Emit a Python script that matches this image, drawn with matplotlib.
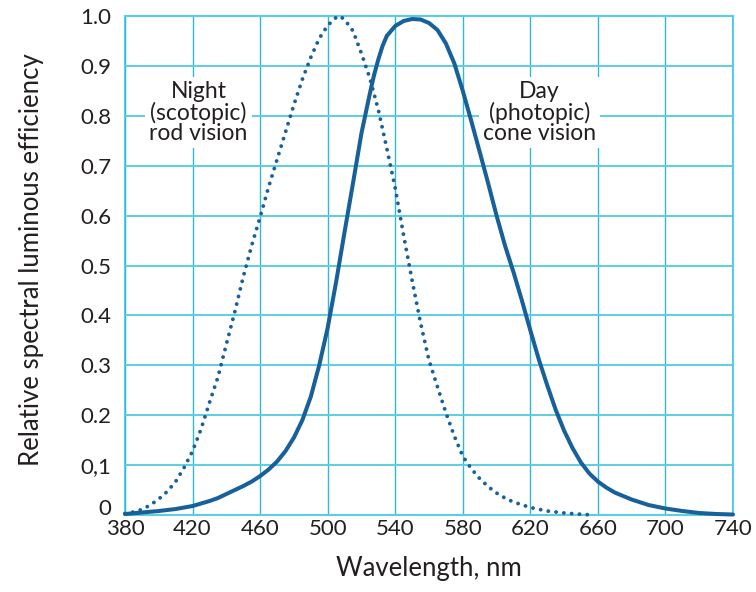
import matplotlib
matplotlib.use("Agg")
import matplotlib.pyplot as plt
from matplotlib.transforms import ScaledTranslation

# ---- data ----
photopic_nm = [380, 390, 400, 410, 420, 430, 435, 440, 445, 450, 455, 460, 465, 470, 475,
               480, 485, 490, 495, 500, 505, 510, 515, 520, 525, 527.5, 530, 532.5, 535,
               540, 545, 550, 555, 560, 565, 570, 575, 580, 585, 590, 595, 600, 605, 610,
               615, 620, 625, 630, 635, 640, 645, 650, 655, 660, 665, 670, 680, 690, 700,
               710, 720, 730, 740]
photopic_val = [0.002, 0.005, 0.008, 0.012, 0.018, 0.028, 0.034, 0.042, 0.050, 0.058, 0.067,
                0.078, 0.091, 0.107, 0.128, 0.155, 0.190, 0.237, 0.300, 0.375, 0.467, 0.567,
                0.665, 0.765, 0.845, 0.882, 0.913, 0.940, 0.960, 0.980, 0.990, 0.994, 0.993,
                0.986, 0.972, 0.945, 0.905, 0.850, 0.790, 0.728, 0.665, 0.600, 0.540, 0.487,
                0.430, 0.370, 0.312, 0.260, 0.211, 0.169, 0.134, 0.105, 0.083, 0.067, 0.055,
                0.045, 0.031, 0.020, 0.013, 0.008, 0.004, 0.002, 0.001]

scotopic_nm = [380, 385, 390, 395, 400, 405, 410, 415, 420, 425, 430, 435, 440, 445, 450,
               455, 460, 465, 470, 475, 480, 485, 490, 495, 500, 505, 507, 510, 515, 520,
               525, 530, 535, 540, 545, 550, 555, 560, 565, 570, 575, 580, 585, 590, 595,
               600, 605, 610, 620, 630, 640, 650, 657]
scotopic_val = [0.003, 0.006, 0.011, 0.020, 0.032, 0.047, 0.067, 0.095, 0.128, 0.172, 0.225,
                0.276, 0.342, 0.407, 0.477, 0.540, 0.597, 0.657, 0.712, 0.767, 0.822, 0.873,
                0.917, 0.955, 0.981, 0.997, 1.000, 0.993, 0.970, 0.925, 0.875, 0.812, 0.735,
                0.655, 0.560, 0.470, 0.385, 0.310, 0.257, 0.205, 0.158, 0.118, 0.093, 0.073,
                0.057, 0.044, 0.034, 0.026, 0.015, 0.008, 0.004, 0.0015, 0.0]

x_ticks = [380, 420, 460, 500, 540, 580, 620, 660, 700, 740]
y_ticks = [0, 0.1, 0.2, 0.3, 0.4, 0.5, 0.6, 0.7, 0.8, 0.9, 1.0]
y_tick_labels = ["0", "0,1", "0.2", "0.3", "0.4", "0.5", "0.6", "0.7", "0.8", "0.9", "1.0"]

night_label = "Night\n(scotopic)\nrod vision"
day_label = "Day\n(photopic)\ncone vision"

# ---- styling ----
plt.rcParams['font.family'] = ['Lato', 'DejaVu Sans']
TXT = '#231F20'
CURVE = '#17609A'
GRID_H = '#5CCDE3'
GRID_V = '#2EB9D7'

fig = plt.figure(figsize=(7.56, 5.92), dpi=100)
ax = fig.add_axes([125/756, 1-515/592, (733-125)/756, (515-16)/592])

ax.set_xlim(380, 740)
ax.set_ylim(0, 1.0)
ax.set_xticks(x_ticks)
ax.set_yticks(y_ticks)
ax.set_yticklabels(y_tick_labels)
ax.tick_params(length=0, labelsize=16, colors=TXT)
ax.tick_params(axis='y', pad=10)
ax.tick_params(axis='x', pad=3)

# grid
ax.set_axisbelow(True)
ax.xaxis.grid(True, color=GRID_V, lw=1.0, zorder=0)
ax.yaxis.grid(True, color=GRID_H, lw=1.4, zorder=0)
for s in ax.spines.values():
    s.set_color(GRID_H)
    s.set_linewidth(1.5)
    s.set_zorder(0.5)

# curves
ax.plot(photopic_nm, photopic_val, color=CURVE, lw=2.9, solid_capstyle='round',
        solid_joinstyle='round', clip_on=False, zorder=3)
ax.plot(scotopic_nm, scotopic_val, color=CURVE, lw=2.8, linestyle=(0, (0.01, 2.0)),
        dash_capstyle='round', clip_on=False, zorder=3)

# annotations
bbox = dict(facecolor='white', edgecolor='none', pad=3)
ax.text(423.5, 0.806, night_label, ha='center', va='center', fontsize=16.5, color=TXT,
        linespacing=0.96, bbox=bbox, zorder=2)
ax.text(625.5, 0.806, day_label, ha='center', va='center', fontsize=16.5, color=TXT,
        linespacing=0.96, bbox=bbox, zorder=2)

ax.set_xlabel("Wavelength, nm", fontsize=18.5, color=TXT)
ax.set_ylabel("Relative spectral luminous efficiency", fontsize=18.5, color=TXT)
ax.xaxis.set_label_coords(0.5, (515-556)/499)
ax.yaxis.set_label_coords((44-125)/608, 0.512)

# raise the "0" y label slightly like the reference
lab0 = ax.get_yticklabels()[0]
lab0.set_transform(lab0.get_transform() + ScaledTranslation(0, 0.08, fig.dpi_scale_trans))

fig.savefig("out.png", dpi=100)
